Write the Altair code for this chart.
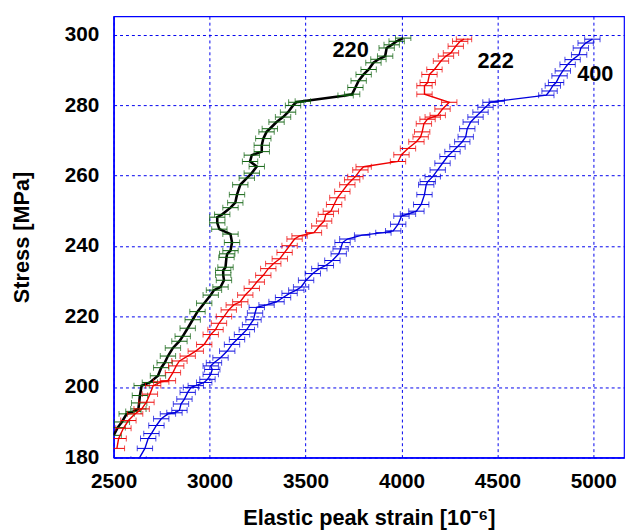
import altair as alt
import pandas as pd

# ---- data ----
stress_220 = [186.3, 188.5, 190.1, 192.4, 193.1, 193.8, 195.5, 197.6, 200.4, 201.3, 203.2, 205.5, 206.9, 208.8,
              211.1, 213.0, 214.4, 216.7, 219.1, 221.4, 223.8, 226.1, 227.5, 228.4, 230.3, 231.8, 233.1, 234.0,
              236.8, 237.8, 238.7, 241.0, 243.4, 244.8, 246.6, 248.2, 249.0, 250.9, 252.3, 254.6, 257.4, 259.3,
              260.7, 262.6, 264.0, 265.8, 266.8, 268.6, 270.5, 272.4, 273.3, 275.2, 276.6, 278.0, 279.9, 280.8,
              281.1, 282.7, 283.1, 285.0, 286.9, 288.7, 290.1, 292.0, 293.0, 293.9, 296.2, 297.1, 298.1, 299.0]
strain_220 = [2500, 2521, 2543, 2568, 2603, 2629, 2633, 2637, 2646, 2689, 2731, 2748, 2766, 2783,
              2809, 2843, 2860, 2886, 2912, 2937, 2972, 3006, 3023, 3057, 3075, 3071, 3071, 3083,
              3088, 3092, 3109, 3117, 3109, 3051, 3040, 3040, 3066, 3109, 3134, 3143, 3160, 3194,
              3220, 3246, 3211, 3220, 3272, 3272, 3280, 3297, 3314, 3349, 3383, 3409, 3435, 3452,
              3486, 3709, 3743, 3760, 3777, 3803, 3829, 3854, 3880, 3915, 3923, 3949, 3975, 4009]

stress_222 = [182.6, 185.4, 188.3, 190.5, 192.4, 193.8, 195.7, 198.0, 200.4, 201.5, 201.8, 204.1, 206.0, 207.4,
              208.8, 210.2, 212.1, 214.9, 216.3, 218.1, 220.0, 221.9, 223.3, 224.2, 226.1, 228.0, 229.8, 231.7,
              233.6, 235.0, 236.4, 238.2, 240.1, 242.0, 242.9, 243.8, 245.7, 247.1, 249.0, 249.9, 251.8, 253.7,
              255.5, 257.4, 258.8, 259.7, 261.6, 262.5, 264.0, 265.9, 267.7, 269.6, 271.0, 272.4, 274.7, 276.0,
              276.6, 277.1, 278.9, 280.8, 283.1, 285.5, 286.4, 288.7, 290.1, 292.5, 293.9, 294.8, 296.7, 298.1, 298.7]
strain_222 = [2517, 2526, 2551, 2577, 2612, 2646, 2671, 2689, 2706, 2748, 2783, 2809, 2826, 2843,
              2886, 2928, 2972, 3006, 3031, 3049, 3075, 3100, 3126, 3160, 3186, 3220, 3246, 3280,
              3306, 3332, 3366, 3391, 3417, 3443, 3469, 3544, 3572, 3597, 3606, 3632, 3649, 3666,
              3692, 3718, 3743, 3760, 3786, 3803, 3982, 4000, 4034, 4078, 4100, 4108, 4117, 4136,
              4163, 4189, 4214, 4249, 4120, 4120, 4137, 4146, 4172, 4206, 4232, 4258, 4283, 4306, 4326]

stress_400 = [179.5, 182.6, 185.4, 186.8, 189.1, 191.0, 192.4, 192.7, 193.4, 195.2, 196.6, 198.5, 199.9, 200.4,
              201.3, 202.2, 203.6, 205.0, 206.0, 206.9, 208.3, 210.2, 212.1, 213.5, 214.9, 216.3, 217.7, 219.1,
              221.0, 222.6, 223.3, 224.2, 225.4, 226.6, 227.5, 228.4, 230.3, 232.2, 233.6, 234.5, 235.9, 237.8,
              239.2, 241.0, 242.0, 243.1, 243.8, 244.3, 246.2, 248.5, 249.1, 249.9, 251.8, 254.6, 257.4, 258.3,
              259.7, 261.6, 263.5, 265.4, 266.8, 268.2, 269.6, 271.0, 273.3, 275.2, 276.6, 278.0, 279.4, 280.8,
              281.1, 282.8, 284.0, 285.5, 286.4, 288.3, 289.7, 291.5, 292.9, 294.3, 296.2, 297.6, 298.7]
strain_400 = [2630, 2663, 2680, 2697, 2723, 2748, 2783, 2817, 2843, 2851, 2869, 2886, 2903, 2928,
              2972, 2989, 3006, 3014, 3006, 3023, 3057, 3092, 3117, 3143, 3169, 3194, 3211, 3229,
              3237, 3246, 3297, 3349, 3383, 3417, 3452, 3477, 3503, 3538, 3572, 3606, 3640, 3673,
              3683, 3693, 3718, 3795, 3906, 3957, 3983, 4000, 4034, 4078, 4103, 4120, 4129, 4137,
              4163, 4189, 4214, 4240, 4266, 4292, 4317, 4335, 4343, 4361, 4386, 4412, 4438, 4464,
              4497, 4755, 4772, 4789, 4806, 4824, 4841, 4866, 4892, 4926, 4935, 4960, 4995]

series_names = ["220", "222", "400"]
error_halfwidth = [40, 40, 40]

label_text = ["220", "222", "400"]
label_strain = [3735, 4491, 5010]
label_stress = [295.7, 292.6, 288.7]

x_ticks = [2500, 3000, 3500, 4000, 4500, 5000]
y_ticks = [180, 200, 220, 240, 260, 280, 300]

# ---- styling ----
line_colors = {"220": "#000000", "222": "#ee0000", "400": "#0000dd"}
bar_colors = {"220": "#0b600b", "222": "#ee0000", "400": "#0000dd"}
line_widths = {"220": 2.6, "222": 1.4, "400": 1.4}
FONT = "Liberation Sans"

xs = alt.Scale(domain=[2500, 5160], nice=False, zero=False)
ys = alt.Scale(domain=[180, 305.2], nice=False, zero=False)

x_axis = alt.Axis(values=x_ticks, title="Elastic peak strain [10⁻⁶]", ticks=False, labelFlush=False,
                  labelPadding=13, titlePadding=17, format="d")
y_axis = alt.Axis(values=y_ticks, title="Stress [MPa]", ticks=False, labelFlush=False,
                  labelPadding=15, titlePadding=31, format="d")


def X(field):
    return alt.X(field, type="quantitative", scale=xs, axis=x_axis)


def Y(field):
    return alt.Y(field, type="quantitative", scale=ys, axis=y_axis)


layers = []
all_data = {"220": (stress_220, strain_220), "222": (stress_222, strain_222), "400": (stress_400, strain_400)}
for name, err in zip(series_names, error_halfwidth):
    st, sn = all_data[name]
    df = pd.DataFrame({"idx": list(range(len(st))), "stress": st, "strain": sn})
    df["lo"] = df["strain"] - err
    df["hi"] = df["strain"] + err
    base = alt.Chart(df)
    bars = base.mark_rule(color=bar_colors[name], strokeWidth=1, clip=True).encode(
        x=X("lo"), x2="hi", y=Y("stress"))
    cap_l = base.mark_tick(color=bar_colors[name], thickness=1, size=6, orient="vertical", clip=True).encode(
        x=X("lo"), y=Y("stress"))
    cap_r = base.mark_tick(color=bar_colors[name], thickness=1, size=6, orient="vertical", clip=True).encode(
        x=X("hi"), y=Y("stress"))
    line = base.mark_line(color=line_colors[name], strokeWidth=line_widths[name], clip=True).encode(
        x=X("strain"), y=Y("stress"), order="idx:Q")
    if name == "220":
        layers += [line, bars, cap_l, cap_r]
    else:
        layers += [bars, cap_l, cap_r, line]

labels_df = pd.DataFrame({"text": label_text, "strain": label_strain, "stress": label_stress})
labels = alt.Chart(labels_df).mark_text(font=FONT, fontSize=22, fontWeight="bold", color="black").encode(
    x=X("strain"), y=Y("stress"), text="text:N")
layers.append(labels)

chart = alt.layer(*layers).properties(
    width=517, height=447,
    autosize=alt.AutoSizeParams(type="none"),
    padding={"left": 107, "top": 5, "right": 2, "bottom": 70},
).configure_view(
    stroke="#0000ff", strokeWidth=1.2
).configure_axis(
    grid=True, gridColor="#0000ee", gridDash=[3, 3], gridWidth=1, gridOpacity=1,
    domainColor="#0000ff", domainWidth=1.5,
    labelFont=FONT, labelFontSize=21, labelFontWeight="bold", labelColor="black",
    titleFont=FONT, titleFontSize=22, titleFontWeight="bold", titleColor="black",
)

chart.save("out.html", embed_options={"renderer": "svg", "actions": False})
